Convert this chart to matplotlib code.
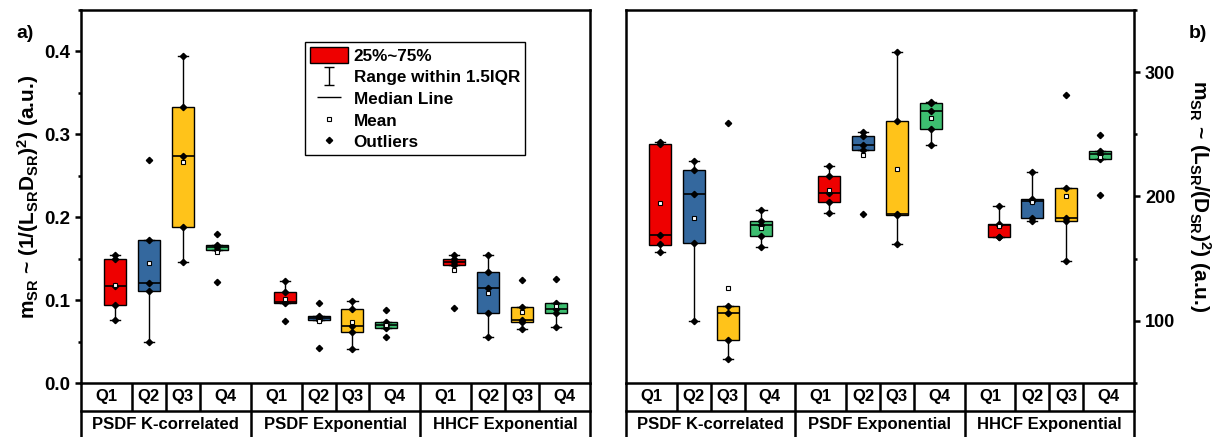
import matplotlib
matplotlib.use("Agg")
import matplotlib.pyplot as plt
from matplotlib.path import Path
from matplotlib.lines import Line2D
from matplotlib.patches import Patch
from matplotlib.ticker import MultipleLocator

plt.rcParams['font.family'] = ['Liberation Sans', 'DejaVu Sans']
plt.rcParams['font.weight'] = 'bold'
plt.rcParams['mathtext.fontset'] = 'custom'
plt.rcParams['mathtext.rm'] = 'Liberation Sans:bold'
plt.rcParams['mathtext.it'] = 'Liberation Sans:bold'
plt.rcParams['mathtext.bf'] = 'Liberation Sans:bold'

# ---------------- data ----------------
groups = ["PSDF K-correlated", "PSDF Exponential", "HHCF Exponential"]
quarters = ["Q1", "Q2", "Q3", "Q4"]
box_colors = ["#EE0000", "#34689E", "#FFC31A", "#3DBE70"]

# panel a) : m_SR ~ 1/(L_SR D_SR)^2
a_q3 = [0.150, 0.172, 0.333, 0.166, 0.1097, 0.0803, 0.0888, 0.0731, 0.1496, 0.1343, 0.0917, 0.0965]
a_med = [0.117, 0.121, 0.274, 0.164, 0.0975, 0.078, 0.0683, 0.0703, 0.146, 0.1146, 0.0764, 0.0896]
a_q1 = [0.094, 0.111, 0.188, 0.161, 0.096, 0.0764, 0.0615, 0.0663, 0.1423, 0.084, 0.0731, 0.084]
a_hi = [0.154, 0.172, 0.395, 0.166, 0.1234, 0.0803, 0.0985, 0.0731, 0.1544, 0.1544, 0.0917, 0.0965]
a_lo = [0.076, 0.050, 0.146, 0.161, 0.096, 0.0764, 0.0414, 0.0663, 0.1423, 0.055, 0.0651, 0.0675]
a_mean = [0.118, 0.145, 0.267, 0.158, 0.1013, 0.0743, 0.0731, 0.0705, 0.1358, 0.1086, 0.086, 0.0927]
a_pts = [
    [0.154, 0.150, 0.117, 0.094, 0.076],
    [0.269, 0.172, 0.121, 0.111, 0.050],
    [0.395, 0.333, 0.274, 0.188, 0.146],
    [0.180, 0.166, 0.164, 0.161, 0.122],
    [0.1234, 0.1097, 0.0975, 0.096, 0.0743],
    [0.0965, 0.0803, 0.078, 0.0764, 0.0418],
    [0.0985, 0.0888, 0.0683, 0.0615, 0.0414],
    [0.0876, 0.0731, 0.0703, 0.0663, 0.0555],
    [0.1544, 0.1496, 0.146, 0.1423, 0.0905],
    [0.1544, 0.1343, 0.1146, 0.084, 0.055],
    [0.1238, 0.0917, 0.0764, 0.0731, 0.0651],
    [0.1258, 0.0965, 0.0896, 0.084, 0.0675],
]

# panel b) : m_SR ~ L_SR/(D_SR)^2
b_q3 = [242, 221.2, 112.1, 180.4, 216.6, 248.3, 260.9, 274.8, 178, 197.8, 207.2, 236.7]
b_med = [169.4, 201.9, 106.2, 176.7, 202.9, 241.8, 186.3, 268.9, 176.9, 196.2, 183.1, 233.8]
b_q1 = [160.8, 162.7, 84.2, 168.3, 195.7, 237.8, 185, 254.4, 167.3, 183.1, 180.4, 229.8]
b_hi = [243.9, 228.7, 112.1, 189.5, 224.7, 251.7, 316, 276.4, 192, 219.5, 207.2, 236.7]
b_lo = [155.4, 99.7, 69.2, 159, 186.9, 237.8, 161.7, 241.3, 167.3, 179.9, 148.5, 229.8]
b_mean = [194.4, 182.8, 126.3, 174.3, 205.1, 233.2, 222, 263.2, 176.3, 195.3, 200.5, 232]
b_pts = [
    [243.9, 242, 169.4, 161.6, 155.4],
    [228.7, 221.2, 201.9, 162.7, 99.7],
    [259.2, 112.1, 106.2, 84.2, 69.2],
    [189.5, 180.4, 176.7, 168.3, 159],
    [224.7, 216.6, 202.9, 195.7, 186.9],
    [251.7, 248.3, 241.8, 237.8, 186],
    [316, 260.9, 186.3, 185, 161.7],
    [276.4, 274.8, 268.9, 254.4, 241.3],
    [192, 178, 176.9, 167.3, 167.3],
    [219.5, 197.8, 196.2, 183.1, 179.9],
    [282, 207.2, 183.1, 180.4, 148.5],
    [249.6, 236.7, 233.8, 229.8, 201.6],
]

positions = [1, 2, 3, 4, 6, 7, 8, 9, 11, 12, 13, 14]

# ---------------- figure ----------------
fig = plt.figure(figsize=(12.22, 4.37), dpi=100)
W, H = 1222, 437
axA = fig.add_axes([81 / W, (H - 383) / H, 509 / W, 373 / H])
axB = fig.add_axes([626 / W, (H - 383) / H, 508 / W, 373 / H])

LW = 1.8


def draw_panel(ax, q1, med, q3, lo, hi, mean, pts):
    stats = []
    for i in range(len(q1)):
        stats.append(dict(q1=q1[i], med=med[i], q3=q3[i], whislo=lo[i],
                          whishi=hi[i], mean=mean[i], fliers=[]))
    colors = [box_colors[i % 4] for i in range(len(q1))]
    bp = ax.bxp(stats, positions=positions, widths=0.65, capwidths=0.3,
                patch_artist=True, showmeans=True, showfliers=False,
                boxprops=dict(edgecolor='black', linewidth=1.0),
                medianprops=dict(color='black', linewidth=1.2),
                whiskerprops=dict(color='black', linewidth=1.0),
                capprops=dict(color='black', linewidth=1.0),
                meanprops=dict(marker='s', markerfacecolor='white',
                               markeredgecolor='black', markersize=3.4,
                               markeredgewidth=0.8, zorder=5),
                manage_ticks=False)
    for patch, c in zip(bp['boxes'], colors):
        patch.set_facecolor(c)
    for p, vals in zip(positions, pts):
        ax.plot([p] * len(vals), vals, ls='none', marker='D', ms=3.2,
                color='black', zorder=4)
    ax.set_xlim(0, 15)
    ax.set_xticks([])
    for s in ax.spines.values():
        s.set_linewidth(LW)
    # category table below the axes
    tr = ax.get_xaxis_transform()
    row1 = -0.0751
    ax.plot([0, 15], [row1, row1], color='black', lw=LW, transform=tr, clip_on=False)
    ax.plot([0, 15], [-0.152, -0.152], color='black', lw=LW, transform=tr, clip_on=False)
    for x in [0, 5, 10, 15]:
        ax.plot([x, x], [0, -0.2], color='black', lw=LW, transform=tr, clip_on=False,
                solid_capstyle='butt')
    for g in range(3):
        base = g * 5
        for x in [1.5, 2.5, 3.5]:
            ax.plot([base + x, base + x], [0, row1], color='black', lw=LW,
                    transform=tr, clip_on=False, solid_capstyle='butt')
        centers = [0.75, 2.0, 3.0, 4.25]
        for c, q in zip(centers, quarters):
            ax.text(base + c, -0.0375, q, transform=tr, ha='center', va='center',
                    fontsize=12, fontweight='bold')
        ax.text(base + 2.5, -0.1126, groups[g], transform=tr, ha='center',
                va='center', fontsize=12, fontweight='bold')


draw_panel(axA, a_q1, a_med, a_q3, a_lo, a_hi, a_mean, a_pts)
draw_panel(axB, b_q1, b_med, b_q3, b_lo, b_hi, b_mean, b_pts)

# panel a axis
axA.set_ylim(0, 0.45)
axA.yaxis.set_major_locator(MultipleLocator(0.1))
axA.yaxis.set_minor_locator(MultipleLocator(0.05))
axA.tick_params(axis='y', which='major', direction='out', length=4.5, width=LW,
                labelsize=13.5, left=True, right=False)
axA.tick_params(axis='y', which='minor', direction='out', length=2.3, width=LW,
                left=True, right=False)
for t in axA.get_yticklabels():
    t.set_fontweight('bold')
axA.set_ylabel(r"m$_{\rm SR}$ ~ (1/(L$_{\rm SR}$D$_{\rm SR}$)$^{\rm 2}$) (a.u.)",
               fontsize=15, fontweight='bold', labelpad=2)

# panel b axis
axB.set_ylim(50, 350)
axB.yaxis.set_major_locator(MultipleLocator(100))
axB.yaxis.set_minor_locator(MultipleLocator(50))
axB.yaxis.tick_right()
axB.yaxis.set_label_position('right')
axB.tick_params(axis='y', which='major', direction='out', length=4.5, width=LW,
                labelsize=13, left=False, right=True)
axB.tick_params(axis='y', which='minor', direction='out', length=2.3, width=LW,
                left=False, right=True)
for t in axB.get_yticklabels():
    t.set_fontweight('bold')
axB.set_ylabel(r"m$_{\rm SR}$ ~ (L$_{\rm SR}$/(D$_{\rm SR}$)$^{\rm 2}$) (a.u.)",
               fontsize=15, fontweight='bold', rotation=270, labelpad=27)

fig.text(25 / W, 1 - 33 / H, "a)", ha='center', va='center', fontsize=14,
         fontweight='bold')
fig.text(1198 / W, 1 - 33 / H, "b)", ha='center', va='center', fontsize=14,
         fontweight='bold')

# legend
whisker_path = Path([(-0.6, -1), (0.6, -1), (0, -1), (0, 1), (-0.6, 1), (0.6, 1)],
                    [Path.MOVETO, Path.LINETO, Path.MOVETO, Path.LINETO,
                     Path.MOVETO, Path.LINETO])
handles = [
    Patch(facecolor=box_colors[0], edgecolor='black', linewidth=1.0),
    Line2D([], [], ls='none', marker=whisker_path, ms=13, mfc='none',
           mec='black', mew=1.0),
    Line2D([], [], ls='none', marker='_', ms=17, mec='black', mew=1.0),
    Line2D([], [], ls='none', marker='s', ms=3.4, mfc='white', mec='black',
           mew=0.8),
    Line2D([], [], ls='none', marker='D', ms=3.2, color='black'),
]
labels = ["25%~75%", "Range within 1.5IQR", "Median Line", "Mean", "Outliers"]
leg = axA.legend(handles, labels, loc='upper left', bbox_to_anchor=(0.44, 0.914),
                 borderaxespad=0, frameon=True, fancybox=False, framealpha=1,
                 edgecolor='black', handlelength=2.2,
                 handleheight=1.05, handletextpad=0.35, labelspacing=0.28,
                 borderpad=0.3, numpoints=1, prop={'weight': 'bold', 'size': 12.3})
leg.get_frame().set_linewidth(1.0)

fig.savefig("out.png", dpi=100)
